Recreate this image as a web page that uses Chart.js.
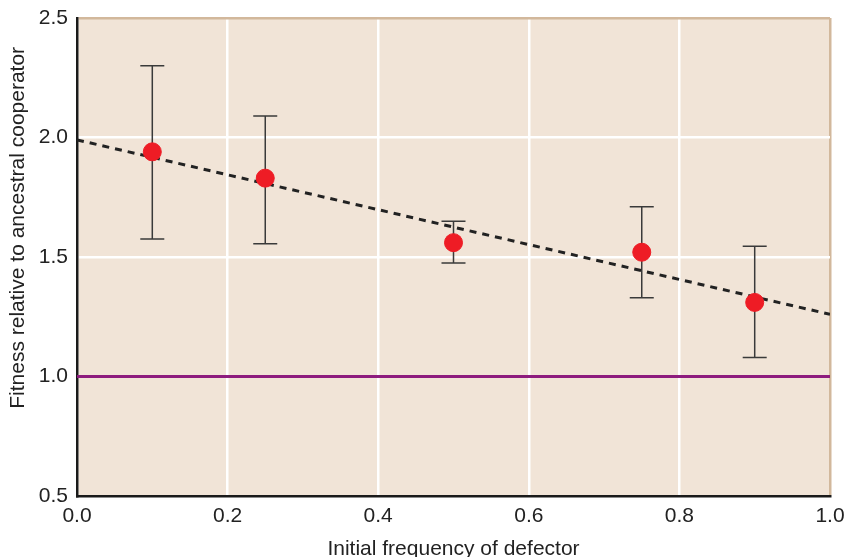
<!DOCTYPE html>
<html>
<head>
    <title>Defector fitness</title>
    <script src="https://cdn.jsdelivr.net/npm/chart.js"></script>
    <style>
        body { margin: 0; background: #fff; }
        #wrap { width: 845px; height: 557px; }
    </style>
</head>
<body>
<div id="wrap"><canvas id="fitChart" width="845" height="557"></canvas></div>

<script>
// values
const freqs = [0.1, 0.25, 0.5, 0.75, 0.9];
const fitness = [1.94, 1.83, 1.56, 1.52, 1.31];
const errHigh = [2.30, 2.09, 1.65, 1.71, 1.545];
const errLow = [1.575, 1.555, 1.475, 1.33, 1.08];
const fitLineX = [0.0, 1.0];
const fitLineY = [1.99, 1.26];
const baselineY = [1.0, 1.0];

const font = { family: "'Liberation Sans', Arial, sans-serif", size: 21 };

// beige plot background
const plotBg = {
    id: 'plotBg',
    beforeDraw(chart) {
        const { ctx, chartArea: a } = chart;
        ctx.save();
        ctx.fillStyle = '#f1e4d7';
        ctx.fillRect(a.left, a.top, a.right - a.left, a.bottom - a.top);
        ctx.restore();
    }
};

// whiskers for the red points
const errorBars = {
    id: 'errorBars',
    beforeDatasetsDraw(chart) {
        const { ctx, scales: { x, y } } = chart;
        ctx.save();
        ctx.strokeStyle = '#3a3a3a';
        ctx.lineWidth = 1.5;
        freqs.forEach((f, i) => {
            const px = x.getPixelForValue(f);
            const top = y.getPixelForValue(errHigh[i]);
            const bot = y.getPixelForValue(errLow[i]);
            ctx.beginPath();
            ctx.moveTo(px, top); ctx.lineTo(px, bot);
            ctx.moveTo(px - 12, top); ctx.lineTo(px + 12, top);
            ctx.moveTo(px - 12, bot); ctx.lineTo(px + 12, bot);
            ctx.stroke();
        });
        ctx.restore();
    }
};

const ctx = document.getElementById('fitChart').getContext('2d');
new Chart(ctx, {
    type: 'scatter',
    data: {
        datasets: [
            {
                label: 'baseline',
                data: fitLineX.map((v, i) => ({ x: v, y: baselineY[i] })),
                showLine: true,
                borderColor: '#8e1c7e',
                borderWidth: 3,
                pointRadius: 0,
                order: 3
            },
            {
                label: 'fit',
                data: fitLineX.map((v, i) => ({ x: v, y: fitLineY[i] })),
                showLine: true,
                borderColor: '#222',
                borderWidth: 3,
                borderDash: [7, 6],
                pointRadius: 0,
                order: 2
            },
            {
                label: 'fitness',
                data: freqs.map((v, i) => ({ x: v, y: fitness[i] })),
                backgroundColor: '#ee1c25',
                borderColor: '#ee1c25',
                pointRadius: 9,
                order: 1
            }
        ]
    },
    options: {
        responsive: false,
        animation: false,
        layout: { padding: { top: 18, right: 15, left: 0, bottom: 0 } },
        plugins: {
            legend: { display: false },
            tooltip: { enabled: false }
        },
        scales: {
            x: {
                type: 'linear',
                min: 0, max: 1,
                afterFit(s) {
                    s.height = 61;
                    s.paddingLeft = 0;
                    s.paddingRight = 0;
                },
                ticks: {
                    stepSize: 0.2,
                    color: '#222',
                    font: font,
                    padding: 8,
                    callback: v => v.toFixed(1)
                },
                grid: {
                    color: c => c.tick.value >= 1 ? '#d2b89c' : '#ffffff',
                    lineWidth: 2.5,
                    drawTicks: false
                },
                border: { color: '#1a1a1a', width: 2.5 },
                title: {
                    display: true,
                    text: 'Initial frequency of defector',
                    color: '#222',
                    font: font,
                    padding: { top: 0, bottom: -5 }
                }
            },
            y: {
                min: 0.5, max: 2.5,
                afterFit(s) {
                    s.width = 77;
                    s.paddingTop = 0;
                    s.paddingBottom = 0;
                },
                ticks: {
                    stepSize: 0.5,
                    color: '#222',
                    font: font,
                    padding: 9,
                    callback: v => v.toFixed(1)
                },
                grid: {
                    color: c => c.tick.value >= 2.5 ? '#d2b89c' : '#ffffff',
                    lineWidth: 2.5,
                    drawTicks: false
                },
                border: { color: '#1a1a1a', width: 2.5 },
                title: {
                    display: true,
                    // leading spaces nudge the title up, as in the original
                    text: '\u00a0'.repeat(10) + 'Fitness relative to ancestral cooperator',
                    color: '#222',
                    font: font,
                    padding: { top: 6, bottom: 0 }
                }
            }
        }
    },
    plugins: [plotBg, errorBars]
});
</script>
</body>
</html>
